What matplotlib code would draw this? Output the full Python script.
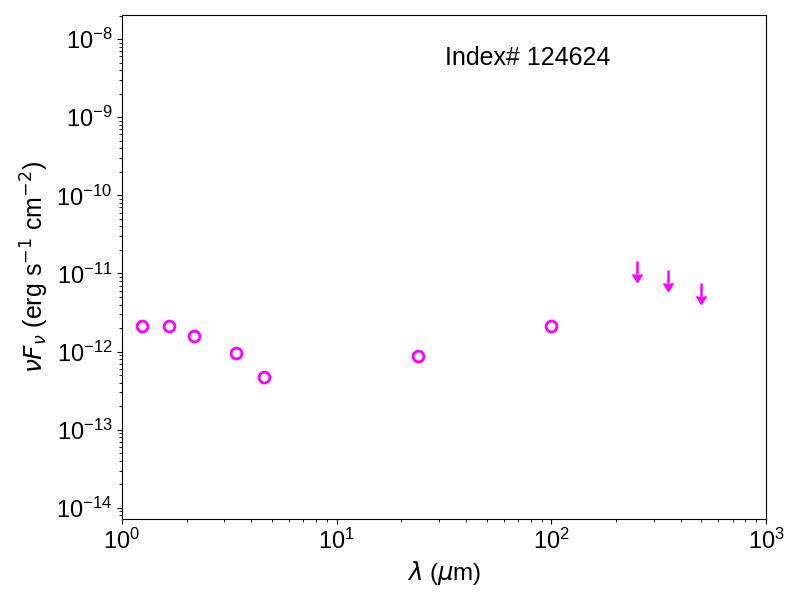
import matplotlib
matplotlib.use("Agg")
import matplotlib.pyplot as plt

plt.rcParams["font.family"] = ["Liberation Sans", "DejaVu Sans"]

# detections (micron, erg/s/cm^2)
wave = [1.235, 1.66, 2.16, 3.4, 4.6, 24.0, 100.0]
flux = [2.1e-12, 2.1e-12, 1.6e-12, 9.6e-13, 4.7e-13, 8.9e-13, 2.15e-12]

# upper limits
ul_wave = [250.0, 350.0, 500.0]
ul_flux = [1.45e-11, 1.1e-11, 7.6e-12]
ul_frac = 0.32

label = "Index# 124624"

fig = plt.figure(figsize=(8, 6), dpi=100)
ax = fig.add_axes([0.1525, 0.135, 0.805, 0.84])

ax.plot(wave, flux, "o", mfc="none", mec="magenta", ms=7.8, mew=2.0)
_, caps, _ = ax.errorbar(ul_wave, ul_flux, yerr=[f * ul_frac for f in ul_flux],
                         uplims=True, fmt="none", ecolor="magenta",
                         elinewidth=1.8, capsize=0)
for c in caps:
    c.set_color("magenta")
    c.set_markerfacecolor("magenta")
    c.set_markeredgecolor("magenta")
    c.set_markersize(7.5)

ax.set_xscale("log")
ax.set_yscale("log")
ax.set_xlim(1, 1000)
ax.set_ylim(7.2e-15, 2.03e-8)

ax.set_xlabel(r"$\lambda$ ($\mu$m)", fontsize=17.5)
ax.set_ylabel(r"$\nu F_\nu$ (erg s$^{-1}$ cm$^{-2}$)", fontsize=18)
ax.tick_params(axis="both", which="major", labelsize=17)
ax.tick_params(top=False, right=False, which="both")

ax.text(0.63, 0.915, label, transform=ax.transAxes, ha="center", va="center",
        fontsize=18)

fig.savefig("out.png", dpi=100)
